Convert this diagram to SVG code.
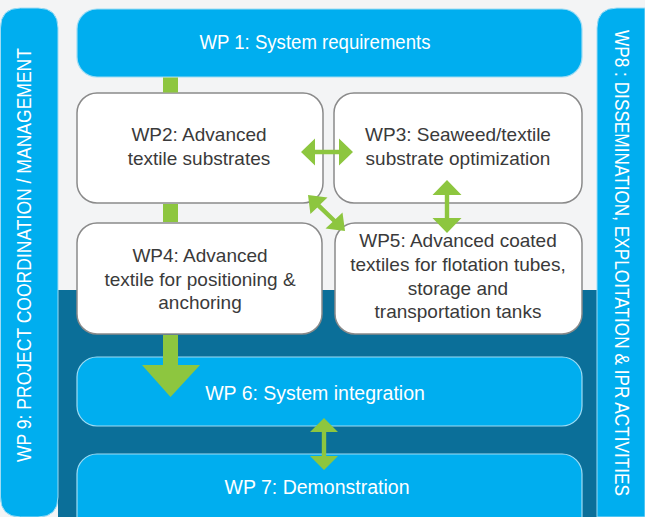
<svg xmlns="http://www.w3.org/2000/svg" width="645" height="517" viewBox="0 0 645 517">
<defs>
<style>
.bar{fill:#00aeef;stroke:#9edcf4;stroke-width:1}
.cy{fill:#00aeef;stroke:#9edcf4;stroke-width:1.2}
.wb{fill:#ffffff;stroke:#8a8a8a;stroke-width:1.5}
.wt{font-family:"Liberation Sans",Arial,sans-serif;font-size:19.5px;fill:#ffffff;text-anchor:middle}
.dt{font-family:"Liberation Sans",Arial,sans-serif;font-size:19px;fill:#3a3a3a;text-anchor:middle}
.g{fill:#8dc63f}
</style>
</defs>
<rect x="0" y="0" width="645" height="517" fill="#f3f4f5"/>
<rect x="58" y="290" width="539" height="227" fill="#0b6f99"/>
<g id="wp9">
<path class="bar" d="M0.5,28 Q0.5,8 20.5,8 H38 Q58,8 58,28 V497 Q58,517 38,517 H20.5 Q0.5,517 0.5,497 Z"/>
<text class="wt" font-size="17" transform="translate(31,255) rotate(-90)" textLength="414" lengthAdjust="spacingAndGlyphs">WP 9: PROJECT COORDINATION / MANAGEMENT</text>
</g>
<g id="wp8">
<path class="bar" d="M597,517 V28 Q597,8 617,8 H645 V517 Z"/>
<text class="wt" font-size="16.5" transform="translate(615,263) rotate(90)" textLength="466" lengthAdjust="spacingAndGlyphs">WP8 : DISSEMINATION, EXPLOITATION &amp; IPR ACTIVITIES</text>
</g>
<g id="wp1">
<rect class="cy" x="77" y="9" width="505" height="68" rx="20"/>
<text class="wt" x="315" y="49" textLength="231" lengthAdjust="spacingAndGlyphs">WP 1: System requirements</text>
</g>
<g id="wp2">
<rect class="wb" x="77" y="93" width="246" height="110" rx="20"/>
<text class="dt" x="199" y="141">WP2: Advanced</text>
<text class="dt" x="199" y="165">textile substrates</text>
</g>
<g id="wp3">
<rect class="wb" x="334" y="93" width="248" height="110" rx="20"/>
<text class="dt" x="458" y="141">WP3: Seaweed/textile</text>
<text class="dt" x="458" y="165">substrate optimization</text>
</g>
<g id="wp4">
<rect class="wb" x="77" y="223" width="245" height="111" rx="20"/>
<text class="dt" x="200" y="262">WP4: Advanced</text>
<text class="dt" x="200" y="286">textile for positioning &amp;</text>
<text class="dt" x="200" y="309">anchoring</text>
</g>
<g id="wp5">
<rect class="wb" x="335" y="223" width="247" height="111" rx="20"/>
<text class="dt" x="458" y="247">WP5: Advanced coated</text>
<text class="dt" x="458" y="271">textiles for flotation tubes,</text>
<text class="dt" x="458" y="295">storage and</text>
<text class="dt" x="458" y="318">transportation tanks</text>
</g>
<g id="wp6">
<rect class="cy" x="77" y="357" width="505" height="69" rx="20"/>
<text class="wt" x="315" y="400">WP 6: System integration</text>
</g>
<g id="wp7">
<rect class="cy" x="77" y="454" width="505" height="90" rx="20"/>
<text class="wt" x="317" y="494">WP 7: Demonstration</text>
</g>
<g id="connectors">
<rect class="g" x="163" y="77.5" width="15" height="15"/>
<rect class="g" x="163" y="204" width="15" height="18"/>
<polygon class="g" points="163,335 178,335 178,365 200,365 170.5,397 142,365 163,365"/>
<polygon class="g" points="301,152 315,138.5 315,149.8 339,149.8 339,138.5 353,152 339,165.5 339,154.2 315,154.2 315,165.5"/>
<polygon class="g" points="447,180 461.5,195 449.2,195 449.2,218 461.5,218 447,233 432.5,218 444.8,218 444.8,195 432.5,195"/>
<polygon class="g" points="308,195 327.5,197.5 320.4,204.2 335.6,218.9 342.5,212.4 345,231 325.5,228.5 332.5,222 317.3,207.4 310.4,214"/>
<polygon class="g" points="324,418 338,432 326.2,432 326.2,456 338,456 324,470 310,456 321.8,456 321.8,432 310,432"/>
</g>
</svg>
